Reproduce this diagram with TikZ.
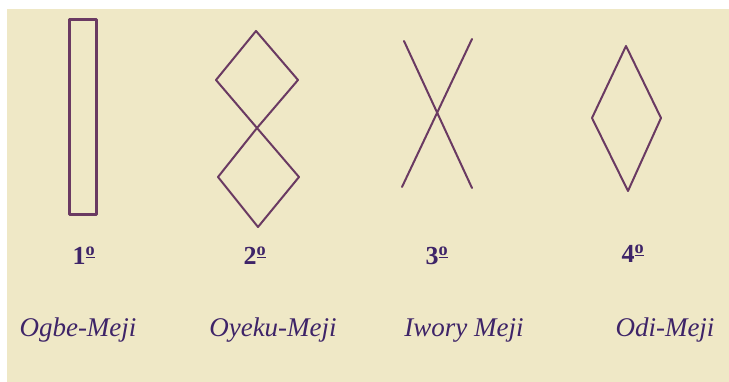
\documentclass[tikz,border=0pt]{standalone}
\usepackage{fontspec}
\setmainfont{Liberation Serif}
\definecolor{paper}{HTML}{EFE8C6}
\definecolor{ink}{HTML}{6A3A62}
\definecolor{pen}{HTML}{3E2468}
\begin{document}
\begin{tikzpicture}[x=1pt,y=-1pt,
  figline/.style={draw=ink,line width=2pt,line join=round,line cap=round},
  numlabel/.style={text=pen,font=\fontsize{26}{26}\selectfont\bfseries,inner sep=0pt},
  namelabel/.style={text=pen,font=\fontsize{27}{27}\selectfont\itshape,inner sep=0pt}]
\useasboundingbox (0,0) rectangle (729,382);
\fill[white] (0,0) rectangle (729,382);
\fill[paper] (7,9) rectangle (729,382);
% 1: Ogbe
\node[figline,line width=2.6pt,minimum width=27pt,minimum height=195pt,inner sep=0pt] (ogbe) at (83,117) {};
% 2: Oyeku
\coordinate (t2) at (256,31);
\coordinate (l2a) at (216,80);
\coordinate (r2a) at (298,80);
\coordinate (c2) at (257,128);
\coordinate (l2b) at (218,177);
\coordinate (r2b) at (299,177);
\coordinate (b2) at (258,227);
\draw[figline] (t2) -- (r2a) -- (c2) -- (l2b) -- (b2) -- (r2b) -- (c2) -- (l2a) -- cycle;
% 3: Iwory
\coordinate (a3) at (404,41);
\coordinate (b3) at (472,188);
\coordinate (c3) at (472,39);
\coordinate (d3) at (402,187);
\draw[figline] (a3) -- (b3);
\draw[figline] (c3) -- (d3);
% 4: Odi
\coordinate (t4) at (626,46);
\coordinate (l4) at (592,118);
\coordinate (r4) at (661,118);
\coordinate (b4) at (628,191);
\draw[figline] (t4) -- (r4) -- (b4) -- (l4) -- cycle;
% numbers
\node[numlabel] (n1) at (84,256) {1\textsuperscript{\underline{o}}};
\node[numlabel] (n2) at (255,256) {2\textsuperscript{\underline{o}}};
\node[numlabel] (n3) at (437,256) {3\textsuperscript{\underline{o}}};
\node[numlabel] (n4) at (633,254) {4\textsuperscript{\underline{o}}};
% names
\node[namelabel] (m1) at (78,330) {Ogbe-Meji};
\node[namelabel] (m2) at (273,330) {Oyeku-Meji};
\node[namelabel] (m3) at (464,330) {Iwory Meji};
\node[namelabel] (m4) at (665,330) {Odi-Meji};
\end{tikzpicture}
\end{document}
